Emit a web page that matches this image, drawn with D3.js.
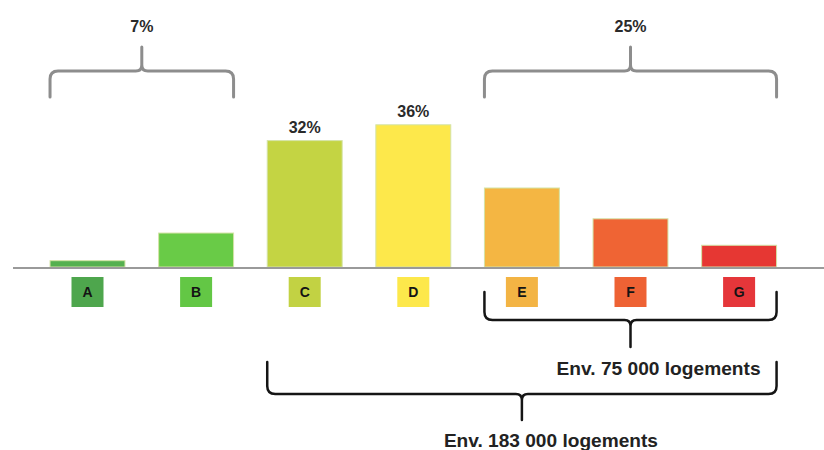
<!DOCTYPE html>
<html>
<head>
<meta charset="utf-8">
<script src="https://cdn.jsdelivr.net/npm/d3@7"></script>
<style>
  html, body { margin: 0; padding: 0; background: #fff; }
  svg { display: block; font-family: "Liberation Sans", Arial, Helvetica, sans-serif; }
</style>
</head>
<body>
<svg id="chart" width="824" height="450"></svg>
<script>
// Energy-label classes and the share of housing in each
const categories = ["A", "B", "C", "D", "E", "F", "G"];
const shares = [1.6, 8.6, 32, 36, 20, 12.2, 5.5];
const barColors = ["#55b04f", "#69cb47", "#c4d443", "#fde84b", "#f4b643", "#ef6434", "#e63733"];
const tagColors = ["#4ea64d", "#63c745", "#c2d243", "#fde84b", "#f3b444", "#ee6234", "#e5363a"];
const labelledClasses = ["C", "D"];

// Group annotations (braces)
const topGroups = [
  { from: "A", to: "B", label: "7%" },
  { from: "E", to: "G", label: "25%" }
];
const bottomGroups = [
  { from: "E", to: "G", label: "Env. 75 000 logements" },
  { from: "C", to: "G", label: "Env. 183 000 logements" }
];

const svg = d3.select("#chart");

const x = d3.scaleBand()
  .domain(categories)
  .range([33.2, 793.4])
  .paddingInner(0.31)
  .paddingOuter(0.155);

const y = d3.scaleLinear().domain([0, 40]).range([267, 109]);

const data = categories.map((c, i) => ({ cat: c, v: shares[i], color: barColors[i], tag: tagColors[i] }));

// Bars
svg.append("g").selectAll("rect")
  .data(data)
  .join("rect")
  .attr("x", d => x(d.cat))
  .attr("y", d => y(d.v))
  .attr("width", x.bandwidth())
  .attr("height", d => y(0) - y(d.v))
  .attr("fill", d => d.color)
  .attr("stroke", "#d4e3a6")
  .attr("stroke-width", 1);

// Baseline
svg.append("line")
  .attr("x1", 13).attr("x2", 824)
  .attr("y1", y(0) + 1).attr("y2", y(0) + 1)
  .attr("stroke", "#9a9a9a")
  .attr("stroke-width", 2.2);

// Value labels on selected bars
svg.append("g").selectAll("text")
  .data(data.filter(d => labelledClasses.includes(d.cat)))
  .join("text")
  .attr("x", d => x(d.cat) + x.bandwidth() / 2)
  .attr("y", d => y(d.v) - 8)
  .attr("text-anchor", "middle")
  .attr("font-size", 16)
  .attr("font-weight", "bold")
  .attr("fill", "#2a2a2a")
  .text(d => d3.format(".0f")(d.v) + "%");

// Class tags under the axis
const tags = svg.append("g").selectAll("g")
  .data(data)
  .join("g")
  .attr("transform", d => `translate(${x(d.cat) + x.bandwidth() / 2},292)`);
tags.append("rect")
  .attr("x", -16).attr("y", -15)
  .attr("width", 32).attr("height", 30)
  .attr("fill", d => d.tag);
tags.append("text")
  .attr("text-anchor", "middle")
  .attr("dy", "0.36em")
  .attr("font-size", 14)
  .attr("font-weight", "bold")
  .attr("fill", "#141414")
  .text(d => d.cat);

// Curly brace: ends at yEnd, horizontal run at yH, point at yTip
function bracePath(x1, x2, yEnd, yH, yTip) {
  const d = Math.sign(yTip - yH);
  const r = 8, t = 6;
  const xm = (x1 + x2) / 2;
  return `M${x1},${yEnd} L${x1},${yH - d * r} Q${x1},${yH} ${x1 + r},${yH} ` +
         `L${xm - t},${yH} Q${xm},${yH} ${xm},${yH + d * t} L${xm},${yTip} ` +
         `M${xm},${yH + d * t} Q${xm},${yH} ${xm + t},${yH} ` +
         `L${x2 - r},${yH} Q${x2},${yH} ${x2},${yH - d * r} L${x2},${yEnd}`;
}

// Top braces (grey) with share labels
topGroups.forEach(g => {
  const x1 = x(g.from), x2 = x(g.to) + x.bandwidth();
  svg.append("path")
    .attr("d", bracePath(x1, x2, 97, 71, 47))
    .attr("fill", "none")
    .attr("stroke", "#8d8d8d")
    .attr("stroke-width", 3)
    .attr("stroke-linecap", "round");
  svg.append("text")
    .attr("x", (x1 + x2) / 2)
    .attr("y", 32)
    .attr("text-anchor", "middle")
    .attr("font-size", 16)
    .attr("font-weight", "bold")
    .attr("fill", "#2a2a2a")
    .text(g.label);
});

// Bottom braces (black) with housing counts
const bottomLayout = [
  { yEnd: 292, yH: 320, yTip: 347, ty: 375, anchor: "end", tx: (x1, x2) => x2 - 16, len: 204 },
  { yEnd: 362, yH: 394, yTip: 420, ty: 447, anchor: "start", tx: (x1, x2) => (x1 + x2) / 2 - 78, len: 214 }
];
bottomGroups.forEach((g, i) => {
  const L = bottomLayout[i];
  const x1 = x(g.from), x2 = x(g.to) + x.bandwidth();
  svg.append("path")
    .attr("d", bracePath(x1, x2, L.yEnd, L.yH, L.yTip))
    .attr("fill", "none")
    .attr("stroke", "#151515")
    .attr("stroke-width", 2.5)
    .attr("stroke-linecap", "round");
  svg.append("text")
    .attr("x", L.tx(x1, x2))
    .attr("y", L.ty)
    .attr("text-anchor", L.anchor)
    .attr("font-size", 18)
    .attr("font-weight", "bold")
    .attr("fill", "#222")
    .attr("textLength", L.len)
    .attr("lengthAdjust", "spacingAndGlyphs")
    .text(g.label);
});
</script>
</body>
</html>
